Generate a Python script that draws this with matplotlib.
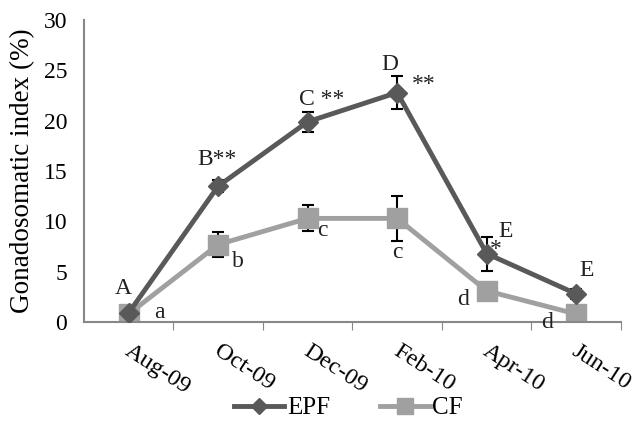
import numpy as np
import matplotlib.pyplot as plt
from matplotlib.lines import Line2D
from matplotlib.transforms import ScaledTranslation

plt.rcParams['font.family'] = ['Liberation Serif', 'DejaVu Serif']

# Data.
months = ['Aug-09', 'Oct-09', 'Dec-09', 'Feb-10', 'Apr-10', 'Jun-10']
epf = [0.9, 13.5, 19.9, 22.8, 6.8, 2.8]
epf_err = [0.0, 0.6, 1.0, 1.6, 1.7, 0.5]
cf = [0.8, 7.7, 10.3, 10.3, 3.1, 0.8]
cf_err = [0.0, 1.2, 1.3, 2.2, 0.0, 0.0]

# Significance letters: (series, month index, text, dx px, dy px)
notes = [
    ('epf', 0, 'A', -5, 25), ('cf', 0, 'a', 31, 2),
    ('epf', 1, 'B**', -1, 27), ('cf', 1, 'b', 20, -17),
    ('epf', 2, 'C **', 14, 22), ('cf', 2, 'c', 15, -12),
    ('epf', 3, 'D', -7, 28), ('epf', 3, '**', 27, 8), ('cf', 3, 'c', 0, -34),
    ('epf', 4, 'E', 19, 22), ('epf', 4, '*', 9, 4), ('cf', 4, 'd', -24, -9),
    ('epf', 5, 'E', 10, 23), ('cf', 5, 'd', -29, -8),
]

dark = '#595959'
light = '#a0a0a0'

fig = plt.figure(figsize=(6.35, 4.37), dpi=100)
ax = fig.add_axes([0.132, 0.263, 0.846, 0.691])

x = np.arange(len(months))
ax.errorbar(x, cf, yerr=cf_err, color=light, lw=3.5, marker='s', ms=14,
            ecolor='black', elinewidth=1.5, capsize=4.5, capthick=1.5, zorder=2)
ax.errorbar(x, epf, yerr=epf_err, color=dark, lw=3.5, marker='D', ms=10,
            ecolor='black', elinewidth=1.5, capsize=4.5, capthick=1.5, zorder=3)

vals = {'epf': epf, 'cf': cf}
for s, i, t, dx, dy in notes:
    ax.annotate(t, (x[i], vals[s][i]), xytext=(dx, dy), textcoords='offset pixels',
                ha='center', va='center', fontsize=17, color='#222222')

ax.set_xlim(-0.5, 5.5)
ax.set_ylim(0, 30)
ax.set_yticks(range(0, 31, 5))
ax.set_xticks(np.arange(0.5, 6, 1))
ax.set_xticklabels([])
ax.set_xticks(x, minor=True)
ax.set_xticklabels(months, minor=True, rotation=-33, ha='left', va='top')
ax.tick_params(axis='x', which='major', length=6, color='#888888')
ax.tick_params(axis='x', which='minor', length=0, pad=13, labelsize=17.5)
ax.tick_params(axis='y', length=0, labelsize=17, pad=12)
shift = ScaledTranslation(-0.08, 0, fig.dpi_scale_trans)
for lab in ax.get_xticklabels(minor=True):
    lab.set_transform(lab.get_transform() + shift)
ax.set_ylabel('Gonadosomatic index (%)', fontsize=19.5, labelpad=6)

for side in ['top', 'right']:
    ax.spines[side].set_visible(False)
for side in ['left', 'bottom']:
    ax.spines[side].set_color('#888888')
    ax.spines[side].set_linewidth(1.5)

handles = [Line2D([], [], color=dark, lw=3.5, marker='D', ms=8),
           Line2D([], [], color=light, lw=3.5, marker='s', ms=11)]
fig.legend(handles, ['EPF', 'CF'], loc='center', bbox_to_anchor=(0.549, 0.066),
           ncol=2, frameon=False, fontsize=18, handlelength=2.0,
           columnspacing=2.0, handletextpad=0.1)

fig.savefig('out.png', dpi=100)
